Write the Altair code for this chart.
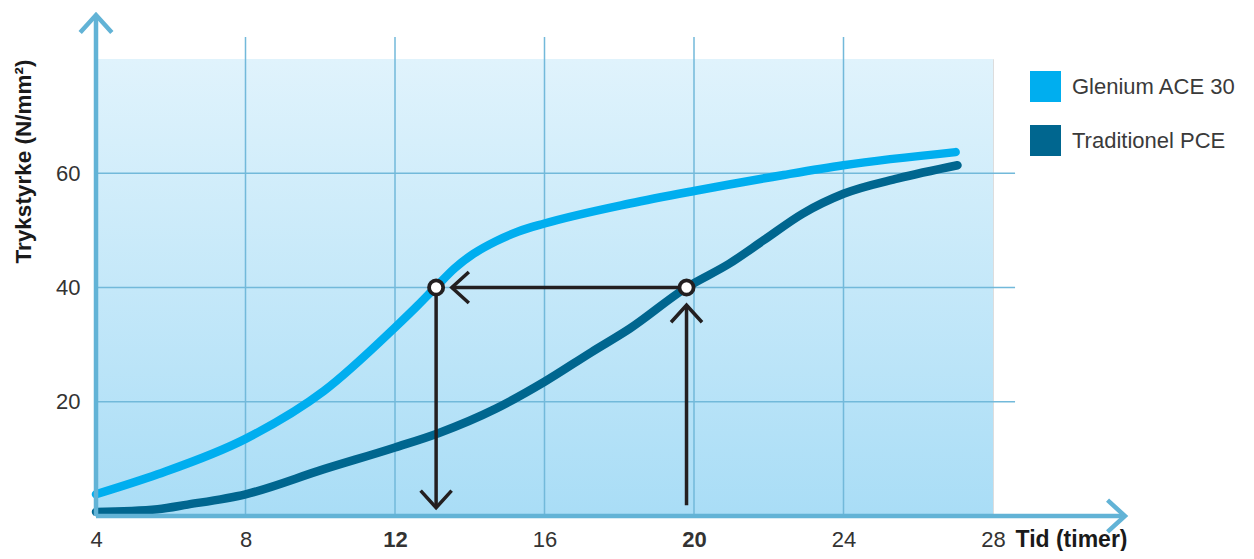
import altair as alt
import pandas as pd

# ---------------- data ----------------
series_names = ["Glenium ACE 30", "Traditionel PCE"]
series_colors = ["#00aeef", "#00668f"]

glenium_t = [4.0, 5.65, 8.0, 10.1, 12.0, 12.6, 13.08, 13.6, 14.1, 14.7, 15.3, 16.0, 18.28, 20.0, 22.4, 24.0, 27.0]
glenium_v = [3.8, 7.3, 13.5, 21.9, 33.0, 36.8, 40.0, 43.4, 45.9, 48.1, 49.8, 51.2, 54.7, 56.9, 59.7, 61.4, 63.7]

pce_t = [4.0, 5.65, 6.45, 8.0, 10.1, 12.0, 13.16, 14.7, 16.0, 17.26, 18.28, 19.8,
         20.95, 21.87, 22.9, 24.0, 25.46, 27.05]
pce_v = [0.7, 1.2, 2.0, 3.8, 8.2, 12.0, 14.5, 18.8, 23.5, 28.7, 32.8, 40.0,
         44.2, 48.3, 52.9, 56.4, 59.1, 61.4]

x_ticks = [4, 8, 12, 16, 20, 24, 28]
y_ticks = [20, 40, 60]
x_grid = [8, 12, 16, 20, 24]
bold_ticks = [12, 20]

# reading example: 40 N/mm2 reached at these times
read_value = 40
glenium_read_t = 13.1
pce_read_t = 19.8

X_DOMAIN = [4, 28]
Y_DOMAIN = [0, 80]

# extents of decorations beyond the plotting domain (data units)
X_AXIS_END = 31.53
Y_AXIS_END = 87.7
GRID_TOP = 83.85
GRID_RIGHT = 28.59
ARROW_GAP_X = 0.42
DOWN_TIP_Y = 1.45
UP_START_Y = 1.9
UP_TIP_Y = 36.9

AXIS_BLUE = "#62b3d6"
GRID_BLUE = "#72b9da"
INK = "#231f20"
FONT = "Liberation Sans"

# ---------------- tables ----------------
lines_df = pd.concat([
    pd.DataFrame({"t": glenium_t, "v": glenium_v, "series": series_names[0], "o": range(len(glenium_t))}),
    pd.DataFrame({"t": pce_t, "v": pce_v, "series": series_names[1], "o": range(len(pce_t))}),
])

bg_df = pd.DataFrame({"x0": [X_DOMAIN[0]], "x1": [X_DOMAIN[1]], "y0": [Y_DOMAIN[0]], "y1": [Y_DOMAIN[1]]})
vgrid_df = pd.DataFrame({"x0": x_grid, "y0": Y_DOMAIN[0], "y1": GRID_TOP})
hgrid_df = pd.DataFrame({"y0": y_ticks, "x0": X_DOMAIN[0], "x1": GRID_RIGHT})

axis_df = pd.DataFrame({
    "x0": [X_DOMAIN[0], X_DOMAIN[0]], "x1": [X_AXIS_END, X_DOMAIN[0]],
    "y0": [Y_DOMAIN[0], Y_DOMAIN[0]], "y1": [Y_DOMAIN[0], Y_AXIS_END],
})
axis_heads = pd.DataFrame({"x0": [X_AXIS_END, X_DOMAIN[0]], "y0": [Y_DOMAIN[0], Y_AXIS_END], "ang": [0, 270]})

arrows_df = pd.DataFrame({
    "x0": [pce_read_t, glenium_read_t, pce_read_t],
    "x1": [glenium_read_t + ARROW_GAP_X, glenium_read_t, pce_read_t],
    "y0": [read_value, read_value, UP_START_Y],
    "y1": [read_value, DOWN_TIP_Y, UP_TIP_Y],
})
arrow_heads = pd.DataFrame({
    "x0": [glenium_read_t + ARROW_GAP_X, glenium_read_t, pce_read_t],
    "y0": [read_value, DOWN_TIP_Y, UP_TIP_Y],
    "ang": [180, 90, 270],
})
circles_df = pd.DataFrame({"x0": [glenium_read_t, pce_read_t], "y0": [read_value, read_value]})

XS = alt.Scale(domain=X_DOMAIN, nice=False, zero=False)
YS = alt.Scale(domain=Y_DOMAIN, nice=False, zero=False)
CHEVRON = "M -1.1 -1 L 0 0 L -1.1 1"

XA = alt.Axis(
    values=x_ticks, domain=False, ticks=False, grid=False, labelFlush=False,
    labelFont=FONT, labelFontSize=22, labelColor="#333333", labelPadding=30,
    labelBaseline="alphabetic",
    labelFontWeight=alt.ExprRef(expr="indexof(%s, datum.value) >= 0 ? 'bold' : 'normal'" % str(bold_ticks)),
    title="Tid (timer)", titleFont=FONT, titleFontSize=23, titleFontWeight="bold",
    titleColor="#1a1a1a", titleX=919, titleY=30, titleAlign="left", titleBaseline="alphabetic",
)
YA = alt.Axis(
    values=y_ticks, domain=False, ticks=False, grid=False,
    labelFont=FONT, labelFontSize=22, labelColor="#333333", labelPadding=16,
    title="Trykstyrke (N/mm²)", titleFont=FONT, titleFontSize=22.5, titleFontWeight="bold",
    titleColor="#1a1a1a", titleX=-66, titleY=102, titleAlign="center", titleBaseline="alphabetic",
    titleAngle=270,
)


def X(f):
    return alt.X(f, scale=XS, axis=XA, title="Tid (timer)")


def Y(f):
    return alt.Y(f, scale=YS, axis=YA, title="Trykstyrke (N/mm²)")


# ---------------- layers ----------------
gradient = alt.LinearGradient(
    gradient="linear",
    stops=[alt.GradientStop(color="#e0f3fc", offset=0), alt.GradientStop(color="#a9ddf6", offset=1)],
    x1=0, x2=0, y1=0, y2=1,
)

bg = alt.Chart(bg_df).mark_rect(color=gradient).encode(
    x=X("x0:Q"), x2="x1:Q", y=Y("y0:Q"), y2="y1:Q")

vgrid = alt.Chart(vgrid_df).mark_rule(color=GRID_BLUE, strokeWidth=1.5).encode(
    x=X("x0:Q"), y=Y("y0:Q"), y2="y1:Q")
hgrid = alt.Chart(hgrid_df).mark_rule(color=GRID_BLUE, strokeWidth=1.5).encode(
    y=Y("y0:Q"), x=X("x0:Q"), x2="x1:Q")

axes_lines = alt.Chart(axis_df).mark_rule(color=AXIS_BLUE, strokeWidth=4.5).encode(
    x=X("x0:Q"), x2="x1:Q", y=Y("y0:Q"), y2="y1:Q")
axes_heads = alt.Chart(axis_heads).mark_point(
    shape=CHEVRON, filled=False, stroke=AXIS_BLUE, strokeWidth=4.5, size=1000, opacity=1).encode(
    x=X("x0:Q"), y=Y("y0:Q"), angle=alt.Angle("ang:Q", scale=None))

legend_spec = alt.Legend(
    title=None, orient="none", legendX=934, legendY=12, padding=0,
    symbolType="square", symbolSize=961, symbolStrokeWidth=0, symbolOpacity=1,
    labelFont=FONT, labelFontSize=22, labelColor="#3a3a3a", labelOffset=11,
    rowPadding=23, labelLimit=300)

# invisible squares that only carry the legend
legend_layer = alt.Chart(lines_df).mark_square(size=0, opacity=1, filled=True).encode(
    x=X("t:Q"),
    y=Y("v:Q"),
    color=alt.Color("series:N", scale=alt.Scale(domain=series_names, range=series_colors),
                    legend=legend_spec),
)

curves = alt.Chart(lines_df).mark_line(
    strokeWidth=8.5, interpolate="monotone", strokeCap="round").encode(
    x=X("t:Q"),
    y=Y("v:Q"),
    color=alt.Color("series:N", scale=alt.Scale(domain=series_names, range=series_colors),
                    legend=legend_spec),
    order="o:Q",
)

arrow_lines = alt.Chart(arrows_df).mark_rule(color=INK, strokeWidth=3.5).encode(
    x=X("x0:Q"), x2="x1:Q", y=Y("y0:Q"), y2="y1:Q")
circles = alt.Chart(circles_df).mark_point(
    shape="circle", filled=True, fill="white", stroke=INK, strokeWidth=3.8, size=200, opacity=1).encode(
    x=X("x0:Q"), y=Y("y0:Q"))
heads = alt.Chart(arrow_heads).mark_point(
    shape=CHEVRON, filled=False, stroke=INK, strokeWidth=3.5, size=961, opacity=1).encode(
    x=X("x0:Q"), y=Y("y0:Q"), angle=alt.Angle("ang:Q", scale=None))

chart = alt.layer(
    bg, vgrid, hgrid, legend_layer, curves, axes_lines, axes_heads, arrow_lines, circles, heads
).properties(
    width=897, height=457,
    autosize=alt.AutoSizeParams(type="none"),
    padding={"left": 88, "top": 51, "right": 253, "bottom": 35},
).configure_view(stroke=None).configure(font=FONT)

chart.save("out.html", embed_options={"renderer": "svg", "actions": False})
